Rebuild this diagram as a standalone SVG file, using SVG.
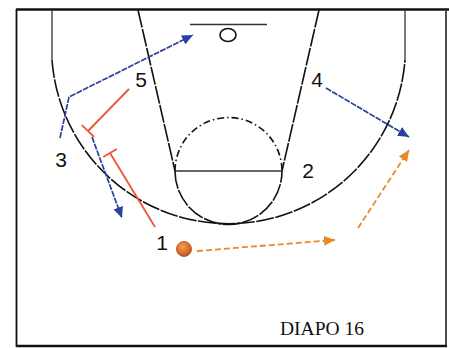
<svg xmlns="http://www.w3.org/2000/svg" width="449" height="348" viewBox="0 0 449 348">
<style>
.frame{stroke:#111;fill:none}
.court{stroke:#111;stroke-width:1.6;fill:none;stroke-dasharray:18 1.5}
.thin{stroke:#333;stroke-width:1.3;fill:none}
.blue{stroke:#2b3f9c;stroke-width:1.7;fill:none;stroke-dasharray:6 1.2}
.red{stroke:#ee5533;stroke-width:1.8;fill:none}
.orange{stroke:#e8892b;stroke-width:1.8;fill:none;stroke-dasharray:6 3}
.lbl{font-family:"Liberation Sans",Arial,sans-serif;font-size:21px;fill:#111;text-anchor:middle}
</style>
<defs>
<marker id="ab" markerUnits="userSpaceOnUse" markerWidth="12" markerHeight="10" refX="11" refY="5" orient="auto"><path d="M0,0 L11,5 L0,10 z" fill="#2b3f9c"/></marker>
<marker id="ao" markerUnits="userSpaceOnUse" markerWidth="12" markerHeight="10" refX="11" refY="5" orient="auto"><path d="M0,0 L11,5 L0,10 z" fill="#e8892b"/></marker>
<radialGradient id="ball" cx="0.4" cy="0.35" r="0.7"><stop offset="0" stop-color="#f4a050"/><stop offset="1" stop-color="#c0501a"/></radialGradient>
</defs>
<rect width="449" height="348" fill="#fff"/>
<g id="frame">
<line class="frame" x1="16" y1="9.5" x2="449" y2="9.5" stroke-width="2.5"/>
<line class="frame" x1="16.5" y1="9" x2="16.5" y2="347" stroke-width="1.8"/>
<line class="frame" x1="446" y1="11" x2="446" y2="347" stroke-width="1.5"/>
<line class="frame" x1="16" y1="346" x2="447" y2="346" stroke-width="2.5"/>
</g>
<g id="court">
<line class="thin" x1="52" y1="10" x2="52" y2="60"/>
<line class="thin" x1="405" y1="10" x2="405" y2="60"/>
<path class="court" d="M52,60 A177,177 0 0 0 405,60"/>
<path class="court" d="M138,10 L175,171"/>
<path class="court" d="M319,10 L282,171"/>
<line class="thin" x1="175" y1="171" x2="282" y2="171"/>
<path class="court" d="M175,171 A53.5,53.5 0 0 0 282,171"/>
<path class="court" d="M175,171 A53.5,53.5 0 0 1 282,171" style="stroke-dasharray:7 3 1.5 3"/>
<line class="thin" x1="190" y1="24.5" x2="267" y2="24.5"/>
<ellipse cx="228" cy="35" rx="8" ry="6.5" fill="none" stroke="#111" stroke-width="1.6"/>
</g>
<g id="connectors">
<path class="blue" d="M60,138 L69,97 L193,35" marker-end="url(#ab)"/>
<path class="blue" d="M92,137 L122,218" marker-end="url(#ab)"/>
<path class="blue" d="M326,88 L409,137" marker-end="url(#ab)"/>
<path class="red" d="M129,89 L88,131 M81.9,125.1 L94.1,136.9"/>
<path class="red" d="M155,227 L110,153 M103.2,157.1 L116.8,148.9"/>
<path class="orange" d="M197,251 L335,240" marker-end="url(#ao)"/>
<path class="orange" d="M358,228 L409,150" marker-end="url(#ao)"/>
</g>
<g id="p5"><text class="lbl" x="141" y="87">5</text></g>
<g id="p4"><text class="lbl" x="317" y="87">4</text></g>
<g id="p3"><text class="lbl" x="61" y="167">3</text></g>
<g id="p2"><text class="lbl" x="308" y="178">2</text></g>
<g id="p1"><text class="lbl" x="162" y="250">1</text></g>
<g id="ballnode"><circle cx="184" cy="249" r="7.5" fill="url(#ball)" stroke="#a84514" stroke-width="0.8"/></g>
<g id="caption"><text x="280" y="335" font-family="Liberation Serif,Times New Roman,serif" font-size="19.5" fill="#111">DIAPO 16</text></g>
</svg>
